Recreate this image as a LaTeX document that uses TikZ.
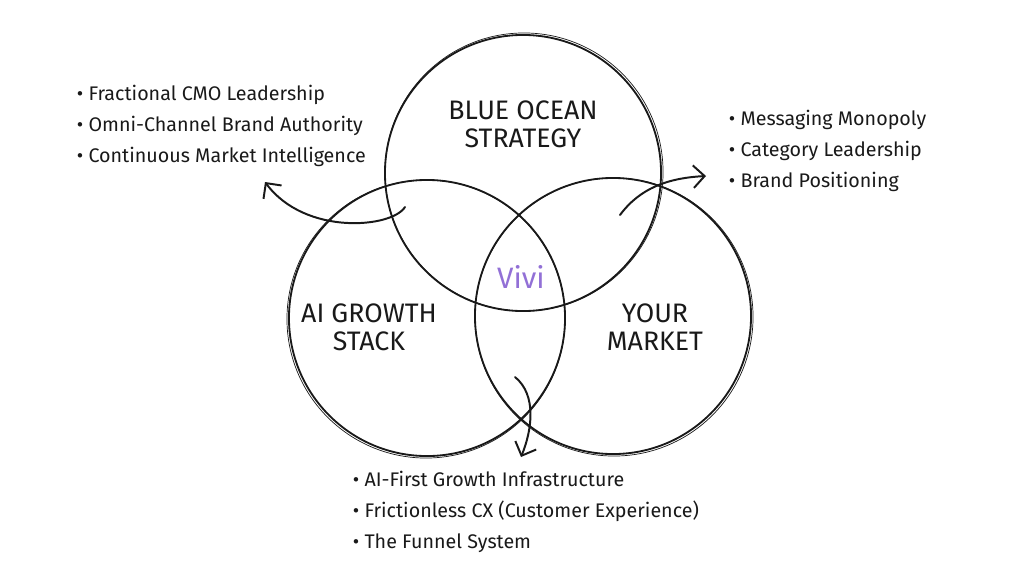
\documentclass[tikz,border=0pt]{standalone}
\usepackage{fontspec}
\setmainfont{Fira Sans}
\usetikzlibrary{arrows.meta}
\definecolor{ink}{RGB}{25,25,25}
\definecolor{vivi}{RGB}{146,112,214}

\begin{document}
\begin{tikzpicture}[x=0.025cm,y=-0.025cm,
  ring/.style={circle,draw=ink,line width=1.3pt,minimum size=6.9cm,inner sep=0pt},
  ghost/.style={circle,draw=ink,line width=0.5pt,minimum size=6.95cm,inner sep=0pt},
  title/.style={font=\fontsize{19}{20}\selectfont,text=ink,align=center},
  items/.style={font=\fontsize{14}{21.8}\selectfont,text=ink,align=left},
  swoosh/.style={draw=ink,line width=1.4pt,line cap=round,
                 -{Straight Barb[length=8pt,width=16pt,line width=1.4pt]}}]
  \useasboundingbox (0,0) rectangle (1024,572);
  % the three circles
  \node[ring]  (ocean)  at (523,173) {};
  \node[ring]  (stack)  at (427,318) {};
  \node[ring]  (market) at (613,316) {};
  \node[ghost] at (524,172) {};
  \node[ghost] at (426,319) {};
  \node[ghost] at (614,317) {};
  % circle titles
  \node[title] (tocean)  at (523,124) {BLUE OCEAN\\STRATEGY};
  \node[title] (tstack)  at (369,327) {AI GROWTH\\STACK};
  \node[title] (tmarket) at (655,327) {YOUR\\MARKET};
  \node[font=\fontsize{21}{22}\selectfont,text=vivi] (vivi) at (521,277) {Vivi};
  % bullet lists
  \node[items,anchor=west] (lleft) at (72,126)
    {\textbullet\ Fractional CMO Leadership\\
     \textbullet\ Omni-Channel Brand Authority\\
     \textbullet\ Continuous Market Intelligence};
  \node[items,anchor=west] (lright) at (724,151)
    {\textbullet\ Messaging Monopoly\\
     \textbullet\ Category Leadership\\
     \textbullet\ Brand Positioning};
  \node[items,anchor=west] (lbottom) at (348,512)
    {\textbullet\ AI-First Growth Infrastructure\\
     \textbullet\ Frictionless CX (Customer Experience)\\
     \textbullet\ The Funnel System};
  % arrows out of the overlaps
  \coordinate (sl) at (405,207);
  \coordinate (el) at (265,182);
  \coordinate (sr) at (620,215);
  \coordinate (er) at (706,176);
  \coordinate (sb) at (515,377);
  \coordinate (eb) at (521,457);
  \draw[swoosh] (sl) .. controls (392,228) and (305,236) .. (el);
  \draw[swoosh] (sr) .. controls (640,188) and (668,178) .. (er);
  \draw[swoosh] (sb) .. controls (537,395) and (532,430) .. (eb);
\end{tikzpicture}
\end{document}
